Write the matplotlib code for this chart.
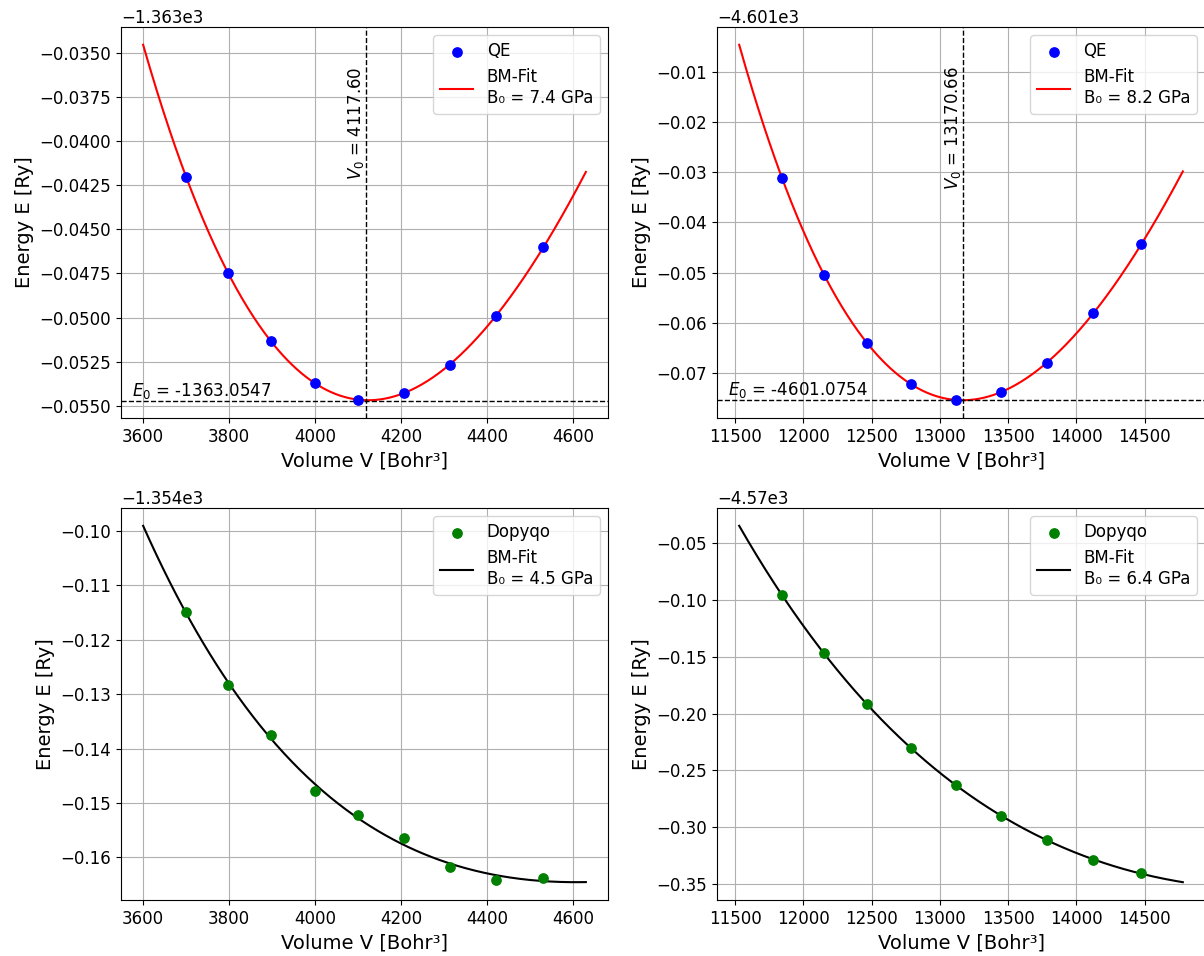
import numpy as np
import matplotlib
matplotlib.use("Agg")
from matplotlib import pyplot as plt
import matplotlib.transforms as mtransforms

# volumes [Bohr^3]
vol_small = [3700, 3797, 3898, 3999, 4101, 4206, 4313, 4421, 4531]
vol_large = [11845, 12150, 12466, 12788, 13116, 13450, 13782, 14124, 14475]

# energies [Ry]
e_qe_small = [-1363.04202, -1363.04747, -1363.05135, -1363.05369, -1363.05466,
              -1363.05429, -1363.05266, -1363.04989, -1363.04603]
e_qe_large = [-4601.03116, -4601.05048, -4601.06395, -4601.07217, -4601.07539,
              -4601.07381, -4601.06803, -4601.05810, -4601.04437]
e_dq_small = [-1354.11486, -1354.12826, -1354.13749, -1354.14771, -1354.15223,
              -1354.15645, -1354.16177, -1354.16410, -1354.16379]
e_dq_large = [-4570.09573, -4570.14699, -4570.19184, -4570.23029, -4570.26291,
              -4570.29000, -4570.31155, -4570.32874, -4570.34097]

# fit range of the curves
fit_range_small = (3600, 4630)
fit_range_large = (11530, 14780)

# fit results written on the plot
b0_labels = ["7.4", "8.2", "4.5", "6.4"]
v0_top = [4117.60, 13170.66]
e0_top = [-1363.0547, -4601.0754]

W, H = 1204, 956
fig = plt.figure(figsize=(W / 100, H / 100), dpi=100)


def px_axes(left, top, right, bottom):
    return fig.add_axes([left / W, 1 - bottom / H, (right - left) / W, (bottom - top) / H])


def bm_fit(v, e, vrange):
    # 3rd order Birch-Murnaghan is a cubic in V^(-2/3)
    t = np.asarray(v, float) ** (-2.0 / 3.0)
    coef = np.polyfit(t, np.asarray(e) - e[0], 3)
    vv = np.linspace(vrange[0], vrange[1], 400)
    return vv, np.polyval(coef, vv ** (-2.0 / 3.0)) + e[0]


panels = [
    (px_axes(121, 27, 608, 418), vol_small, e_qe_small, fit_range_small, "QE", "blue", "red"),
    (px_axes(717, 27, 1205, 418), vol_large, e_qe_large, fit_range_large, "QE", "blue", "red"),
    (px_axes(121, 508, 608, 900), vol_small, e_dq_small, fit_range_small, "Dopyqo", "green", "black"),
    (px_axes(717, 508, 1205, 900), vol_large, e_dq_large, fit_range_large, "Dopyqo", "green", "black"),
]

for i, (ax, v, e, vr, name, c_pts, c_fit) in enumerate(panels):
    ax.scatter(v, e, color=c_pts, s=45, label=name, zorder=3)
    vv, ee = bm_fit(v, e, vr)
    ax.plot(vv, ee, color=c_fit, lw=1.5, label="BM-Fit\nB\u2080 = %s GPa" % b0_labels[i])

    if i < 2:
        ax.axvline(v0_top[i], color="black", ls="--", lw=1)
        ax.axhline(e0_top[i], color="black", ls="--", lw=1)
        trans = mtransforms.blended_transform_factory(ax.transData, ax.transAxes)
        ax.text(v0_top[i], 0.9, "$V_0$ = %.2f" % v0_top[i], rotation=90,
                ha="right", va="top", fontsize=12, transform=trans)
        trans2 = mtransforms.blended_transform_factory(ax.transAxes, ax.transData)
        ax.text(0.022, e0_top[i], "$E_0$ = %.4f" % e0_top[i],
                ha="left", va="bottom", fontsize=12, transform=trans2)

    ax.set_xlabel("Volume V [Bohr\u00b3]", fontsize=14)
    ax.set_ylabel("Energy E [Ry]", fontsize=14)
    ax.tick_params(labelsize=12)
    ax.yaxis.get_offset_text().set_fontsize(12)
    ax.grid(True)
    ax.legend(loc="upper right", fontsize=12)

fig.savefig("out.png", dpi=100)
